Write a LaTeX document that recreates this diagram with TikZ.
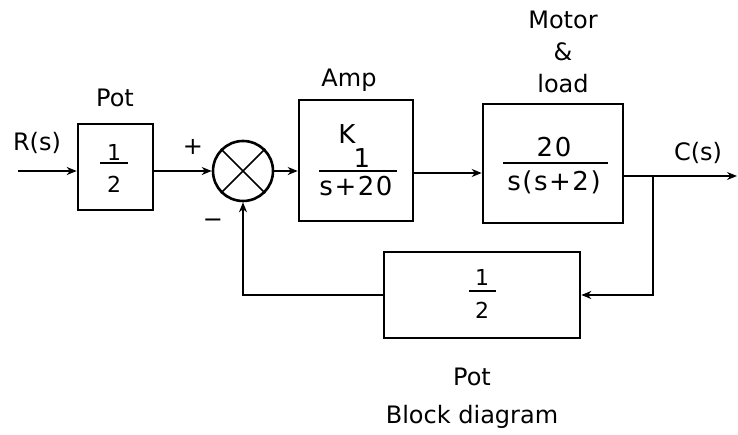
\documentclass[tikz,border=0pt]{standalone}
\usepackage{fontspec}
\setmainfont{DejaVu Sans}
\newfontfamily\widefont[LetterSpace=6]{DejaVu Sans}
\usetikzlibrary{arrows.meta}
\begin{document}
\begin{tikzpicture}[x=1pt,y=-1pt,line width=2.6pt,
  blk/.style={draw,inner sep=0pt},
  lbl/.style={font=\fontsize{24}{26}\selectfont,inner sep=0pt},
  num/.style={font=\widefont\fontsize{26}{28}\selectfont,inner sep=0pt},
  half/.style={font=\fontsize{22}{24}\selectfont,inner sep=0pt},
  bar/.style={line width=2.2pt},
  arr/.style={-{Stealth[length=10pt,width=8pt]}}]
\useasboundingbox (0,0) rectangle (738,435);
% blocks
\node[blk,minimum width=75pt,minimum height=86pt] (pot1) at (115.5,167) {};
\node[draw,circle,minimum size=60pt,inner sep=0pt] (sum) at (243,171) {};
\node[blk,minimum width=114pt,minimum height=121pt] (amp) at (356,160.5) {};
\node[blk,minimum width=140pt,minimum height=119pt] (motor) at (553,163.5) {};
\node[blk,minimum width=196pt,minimum height=86pt] (fb) at (482,295) {};
% cross in summing junction
\draw[line width=1.6pt] (sum.north east) -- (sum.south west);
\draw[line width=1.6pt] (sum.north west) -- (sum.south east);
% block contents
\node[half] (p1n) at (114,152) {1};
\draw[bar] (100,163) -- (128,163);
\node[half] (p1d) at (114,184) {2};
\node[num] (ampk) at (347,134) {K};
\node[num] (amp1) at (362,158) {1};
\draw[bar] (319,171) -- (397,171);
\node[num] (ampd) at (356,186) {s+20};
\node[num] (motn) at (554,147) {20};
\draw[bar] (503,163) -- (608,163);
\node[num] (motd) at (554,182) {s(s+2)};
\node[half] (fbn) at (482,277) {1};
\draw[bar] (469,291) -- (496,291);
\node[half] (fbd) at (482,310) {2};
% labels
\node[lbl] (rs) at (37,143) {R(s)};
\node[lbl] (potl) at (115,98) {Pot};
\node[lbl] (plus) at (193,147) {+};
\node[lbl] (minus) at (213,223) {\textminus};
\node[lbl] (ampl) at (349,80) {Amp};
\node[lbl] (m1) at (563,20) {Motor};
\node[lbl] (m2) at (563,52) {\&};
\node[lbl] (m3) at (563,84) {load};
\node[lbl] (cs) at (698,153) {C(s)};
\node[lbl] (pot2) at (472,377) {Pot};
\node[lbl] (cap) at (472,417) {Block diagram};
% connectors
\coordinate (in) at (18,171);
\coordinate (out) at (737,176);
\coordinate (br) at (653,176);
\draw[arr] (in) -- (in -| pot1.west);
\draw[arr] (pot1.east |- sum) -- (sum.west);
\draw[arr] (sum.east) -- (amp.west |- sum);
\draw[arr] (amp.east |- 0,173) -- (motor.west |- 0,173);
\draw[arr] (motor.east |- out) -- (out);
\draw[arr] (br) |- (fb.east);
\draw[arr] (fb.west) -| (sum.south);
\end{tikzpicture}
\end{document}
